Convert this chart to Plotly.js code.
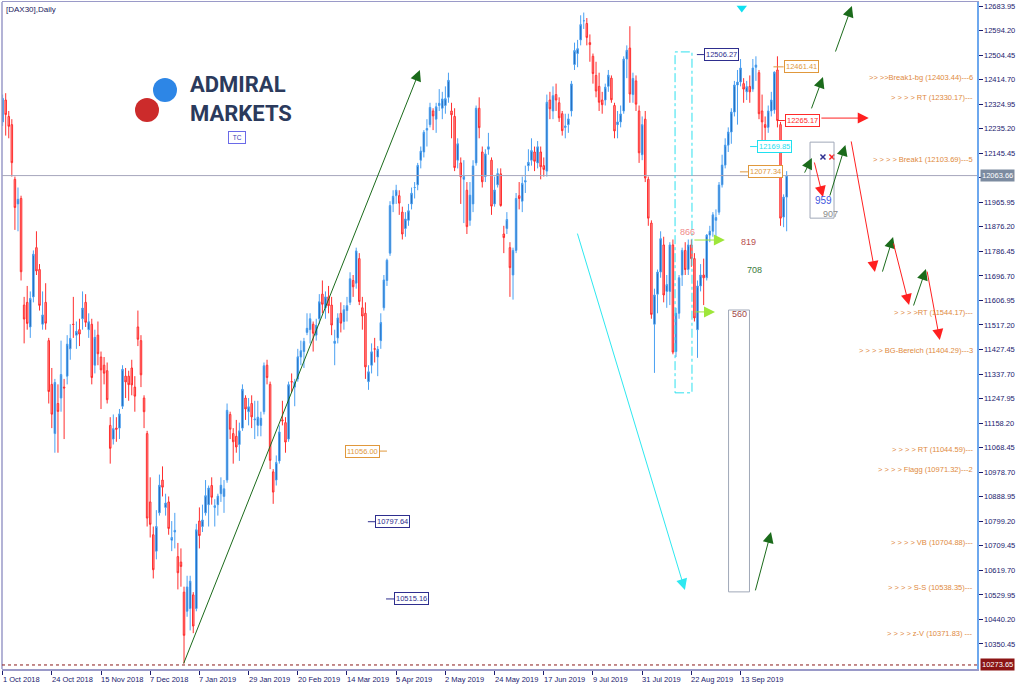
<!DOCTYPE html>
<html><head><meta charset="utf-8">
<script src="https://cdn.plot.ly/plotly-3.0.1.min.js"></script>
<style>html,body{margin:0;padding:0;background:#fff}#chart{width:1024px;height:685px}</style>
</head><body><div id="chart"></div>
<script>
// ---------------- DATA ----------------
const dates = [
"2018-10-01","2018-10-02","2018-10-04","2018-10-05","2018-10-08","2018-10-09","2018-10-10","2018-10-11","2018-10-12","2018-10-15","2018-10-16","2018-10-17","2018-10-18","2018-10-19","2018-10-22","2018-10-23","2018-10-24","2018-10-25","2018-10-26","2018-10-29","2018-10-30","2018-10-31",
"2018-11-01","2018-11-02","2018-11-05","2018-11-06","2018-11-07","2018-11-08","2018-11-09","2018-11-12","2018-11-13","2018-11-14","2018-11-15","2018-11-16","2018-11-19","2018-11-20","2018-11-21","2018-11-22","2018-11-23","2018-11-26","2018-11-27","2018-11-28","2018-11-29","2018-11-30",
"2018-12-03","2018-12-04","2018-12-05","2018-12-06","2018-12-07","2018-12-10","2018-12-11","2018-12-12","2018-12-13","2018-12-14","2018-12-17","2018-12-18","2018-12-19","2018-12-20","2018-12-21","2018-12-27","2018-12-28",
"2019-01-02","2019-01-03","2019-01-04","2019-01-07","2019-01-08","2019-01-09","2019-01-10","2019-01-11","2019-01-14","2019-01-15","2019-01-16","2019-01-17","2019-01-18","2019-01-21","2019-01-22","2019-01-23","2019-01-24","2019-01-25","2019-01-28","2019-01-29","2019-01-30","2019-01-31",
"2019-02-01","2019-02-04","2019-02-05","2019-02-06","2019-02-07","2019-02-08","2019-02-11","2019-02-12","2019-02-13","2019-02-14","2019-02-15","2019-02-18","2019-02-19","2019-02-20","2019-02-21","2019-02-22","2019-02-25","2019-02-26","2019-02-27","2019-02-28",
"2019-03-01","2019-03-04","2019-03-05","2019-03-06","2019-03-07","2019-03-08","2019-03-11","2019-03-12","2019-03-13","2019-03-14","2019-03-15","2019-03-18","2019-03-19","2019-03-20","2019-03-21","2019-03-22","2019-03-25","2019-03-26","2019-03-27","2019-03-28","2019-03-29",
"2019-04-01","2019-04-02","2019-04-03","2019-04-04","2019-04-05","2019-04-08","2019-04-09","2019-04-10","2019-04-11","2019-04-12","2019-04-15","2019-04-16","2019-04-17","2019-04-18","2019-04-23","2019-04-24","2019-04-25","2019-04-26","2019-04-29","2019-04-30",
"2019-05-02","2019-05-03","2019-05-06","2019-05-07","2019-05-08","2019-05-09","2019-05-10","2019-05-13","2019-05-14","2019-05-15","2019-05-16","2019-05-17","2019-05-20","2019-05-21","2019-05-22","2019-05-23","2019-05-24","2019-05-27","2019-05-28","2019-05-29","2019-05-30","2019-05-31",
"2019-06-03","2019-06-04","2019-06-05","2019-06-06","2019-06-07","2019-06-10","2019-06-11","2019-06-12","2019-06-13","2019-06-14","2019-06-17","2019-06-18","2019-06-19","2019-06-20","2019-06-21","2019-06-24","2019-06-25","2019-06-26","2019-06-27","2019-06-28",
"2019-07-01","2019-07-02","2019-07-03","2019-07-04","2019-07-05","2019-07-08","2019-07-09","2019-07-10","2019-07-11","2019-07-12","2019-07-15","2019-07-16","2019-07-17","2019-07-18","2019-07-19","2019-07-22","2019-07-23","2019-07-24","2019-07-25","2019-07-26","2019-07-29","2019-07-30","2019-07-31",
"2019-08-01","2019-08-02","2019-08-05","2019-08-06","2019-08-07","2019-08-08","2019-08-09","2019-08-12","2019-08-13","2019-08-14","2019-08-15","2019-08-16","2019-08-19","2019-08-20","2019-08-21","2019-08-22","2019-08-23","2019-08-26","2019-08-27","2019-08-28","2019-08-29","2019-08-30",
"2019-09-02","2019-09-03","2019-09-04","2019-09-05","2019-09-06","2019-09-09","2019-09-10","2019-09-11","2019-09-12","2019-09-13","2019-09-16","2019-09-17","2019-09-18","2019-09-19","2019-09-20","2019-09-23","2019-09-24","2019-09-25","2019-09-26","2019-09-27","2019-09-30",
"2019-10-01","2019-10-02","2019-10-04","2019-10-07"];

const openP = [
12260,12340,12280,12250,12050,11960,11980,11590,11600,11510,11620,11800,11720,11520,11600,11460,11300,11120,11230,11250,11290,11330,
11430,11520,11480,11500,11540,11600,11500,11520,11370,11480,11400,11370,11350,11150,11100,11140,11140,11220,11330,11330,11360,11290,
11510,11460,11250,11120,10870,10750,10690,10830,10950,10850,10870,10730,10760,10670,10650,10540,10470,
10480,10530,10480,10800,10780,10830,10860,10930,10850,10860,10900,10890,10950,11190,11120,11110,11080,11140,11250,11200,11230,11170,
11150,11150,11200,11370,11300,10980,10950,11020,11170,11160,11100,11310,11290,11320,11400,11420,11490,11500,11520,11480,
11540,11630,11580,11620,11590,11450,11470,11560,11530,11570,11600,11680,11670,11760,11580,11560,11310,11370,11430,11400,11460,
11580,11680,11780,11960,11990,11990,11930,11870,11900,11960,12020,12030,12120,12150,12230,12250,12300,12270,12320,12310,
12320,12350,12300,12280,12120,12110,12050,12010,11900,11960,12110,12310,12150,12060,12160,12120,11960,12030,12070,11850,11870,11800,
11700,11790,11990,11970,12040,12100,12120,12150,12110,12150,12100,12080,12340,12300,12360,12330,12290,12240,12250,12300,
12470,12510,12560,12630,12620,12550,12500,12430,12390,12340,12340,12390,12420,12320,12250,12260,12300,12490,12530,12360,12410,12300,12140,
12270,12050,11890,11520,11630,11711,11810,11640,11640,11810,11420,11560,11700,11790,11720,11810,11760,11500,11660,11700,11690,11846,
11860,11900,11930,12030,12102,12175,12223,12296,12395,12406,12400,12370,12390,12380,12460,12440,12300,12250,12240,12300,12304,
12450,12250,11912,11985];

const highP = [
12360,12365,12300,12270,12060,12020,11990,11620,11660,11640,11790,11860,11740,11640,11670,11470,11360,11320,11300,11460,11320,11480,
11520,11620,11530,11540,11640,11630,11560,11540,11500,11530,11420,11400,11380,11180,11190,11180,11210,11370,11360,11350,11390,11330,
11570,11480,11260,11130,10960,10780,10840,10970,11000,10900,10890,10800,10830,10720,10700,10560,10600,
10600,10540,10790,10850,10860,10950,10930,10960,10880,10900,10960,10950,11230,11200,11140,11170,11160,11300,11260,11250,11260,11240,
11240,11200,11380,11390,11310,10990,11040,11150,11240,11180,11310,11340,11320,11430,11460,11470,11560,11560,11530,11540,
11630,11680,11640,11660,11620,11500,11560,11600,11590,11620,11710,11700,11800,11780,11620,11600,11370,11450,11470,11440,11560,
11700,11760,11970,12010,12030,12010,11950,11930,11960,12020,12040,12110,12170,12230,12270,12330,12310,12330,12380,12370,
12390,12440,12330,12310,12200,12130,12120,12040,12040,12120,12320,12350,12170,12160,12220,12130,12060,12090,12090,11880,11930,11820,
11800,12000,12040,12060,12100,12160,12200,12170,12190,12170,12130,12360,12370,12390,12400,12350,12300,12290,12290,12410,
12550,12560,12650,12660,12640,12580,12510,12480,12440,12370,12400,12450,12430,12330,12300,12320,12500,12540,12610,12440,12430,12320,12280,
12300,12060,11900,11650,11720,11860,11840,11700,11820,11830,11580,11700,11800,11820,11830,11830,11780,11680,11740,11760,11850,11880,
11930,11940,12040,12140,12200,12240,12310,12410,12450,12490,12420,12410,12430,12490,12500,12450,12360,12280,12320,12370,12445,
12500,12260,11995,12080];

const lowP = [
12245,12210,12200,12060,11865,11860,11680,11450,11500,11470,11600,11700,11570,11500,11500,11230,11140,11050,11050,11200,11100,11300,
11390,11470,11430,11440,11500,11510,11470,11300,11340,11370,11210,11300,11230,11010,11080,11090,11100,11210,11250,11240,11260,11200,
11440,11290,11140,10780,10740,10590,10660,10820,10890,10820,10750,10690,10700,10550,10560,10279,10450,
10400,10390,10470,10700,10760,10820,10780,10860,10780,10820,10870,10830,10940,11100,11010,11050,11020,11130,11170,11150,11140,11100,
11110,11110,11190,11300,10990,10863,10930,11010,11150,11050,11090,11270,11220,11310,11370,11360,11480,11450,11420,11460,
11520,11560,11540,11560,11480,11370,11450,11490,11500,11530,11590,11620,11650,11590,11500,11320,11280,11340,11380,11330,11430,
11570,11660,11770,11930,11960,11920,11830,11840,11880,11940,11980,12010,12090,12130,12170,12240,12230,12220,12300,12270,
12290,12330,12200,12080,12090,11960,11890,11850,11880,11930,12100,12200,12020,12040,12140,11920,11950,12020,11950,11780,11850,11620,
11610,11780,11940,11930,12000,12080,12100,12080,12090,12050,12060,12060,12270,12270,12300,12260,12210,12200,12220,12280,
12450,12460,12540,12600,12540,12480,12400,12350,12300,12290,12320,12370,12330,12200,12200,12240,12290,12420,12330,12330,12300,12110,12120,
12040,11880,11540,11342,11560,11690,11600,11580,11590,11410,11400,11540,11660,11700,11700,11730,11530,11397,11640,11590,11680,11820,
11840,11840,11920,12020,12090,12150,12180,12280,12250,12390,12330,12340,12330,12370,12410,12270,12170,12160,12220,12280,12290,
12240,11880,11875,11860];

const closeP = [
12346,12287,12244,12111,11947,11977,11712,11539,11523,11614,11776,11715,11589,11554,11524,11274,11191,11307,11201,11336,11287,11447,
11468,11519,11494,11484,11579,11527,11529,11325,11472,11412,11353,11341,11244,11066,11138,11136,11192,11355,11309,11299,11298,11257,
11465,11335,11200,10811,10788,10622,10780,10931,10924,10866,10773,10740,10766,10611,10634,10382,10559,
10580,10416,10768,10747,10804,10893,10921,10887,10856,10891,10931,10918,11205,11136,11090,11071,11130,11282,11210,11218,11181,11173,
11180,11176,11368,11325,11022,10906,11014,11126,11167,11089,11299,11309,11309,11401,11423,11457,11505,11540,11487,11516,
11602,11593,11620,11588,11517,11458,11543,11524,11573,11588,11686,11657,11788,11603,11550,11364,11346,11419,11429,11428,11526,
11682,11754,11954,11988,12010,11963,11850,11905,11935,11999,12020,12101,12153,12222,12236,12313,12282,12315,12328,12344,
12345,12412,12286,12093,12180,12059,12060,11877,11992,12099,12310,12239,12041,12143,12169,11952,12011,12071,11954,11837,11903,11727,
11790,11980,11980,12035,12045,12112,12155,12116,12169,12096,12086,12332,12308,12356,12340,12275,12228,12245,12271,12399,
12521,12528,12616,12630,12569,12543,12437,12373,12332,12323,12387,12431,12341,12227,12260,12289,12490,12522,12362,12419,12325,12147,12250,
12055,11908,11556,11627,11711,11833,11627,11665,11810,11418,11560,11690,11790,11720,11810,11760,11543,11660,11700,11690,11846,11860,
11920,11910,12029,12102,12175,12223,12296,12395,12406,12457,12380,12389,12370,12457,12468,12290,12260,12240,12300,12340,12442,
12265,11908,11985,12063.66];

const xTickLabels = ["1 Oct 2018","24 Oct 2018","15 Nov 2018","7 Dec 2018","7 Jan 2019","29 Jan 2019","20 Feb 2019","14 Mar 2019","5 Apr 2019","2 May 2019","24 May 2019","17 Jun 2019","9 Jul 2019","31 Jul 2019","22 Aug 2019","13 Sep 2019"];
const yTickValues = [12683.95,12594.20,12504.45,12414.70,12324.95,12235.20,12145.45,12055.70,11965.95,11876.20,11786.45,11696.70,11606.95,11517.20,11427.45,11337.70,11247.95,11158.20,11068.45,10978.70,10888.95,10799.20,10709.45,10619.70,10529.95,10440.20,10350.45];
const currentPrice = 12063.66;
const lowestPrice = 10273.65;

// level texts on the right: [label, level]
const levelTexts = [
 [">> >>Break1-bg (12403.44)---6", 12403.44],
 ["> > > > RT (12330.17)---", 12330.17],
 ["> > > > Break1 (12103.69)---5", 12103.69],
 ["> > > >RT (11544.17)---", 11544.17],
 ["> > > > BG-Bereich (11404.29)---3", 11404.29],
 ["> > > > RT (11044.59)---", 11044.59],
 ["> > > > Flagg (10971.32)---2", 10971.32],
 ["> > > > VB (10704.88)---", 10704.88],
 ["> > > > S-S (10538.35)---", 10538.35],
 ["> > > > z-V (10371.83) ---", 10371.83]
];
// price tags: [text, level, tagBar, lineFromBar, lineToBar, colour]
const priceTags = [
 ["12506.27", 12506.27, 228.1, 225.8, 228.1, "#2e2e8e"],
 ["12461.41", 12461.41, 254.0, 250.7, 254.0, "#e0983c"],
 ["12265.17", 12265.17, 254.4, 252.2, 254.4, "#ff2a2a"],
 ["12169.85", 12169.85, 245.3, 243.1, 245.3, "#1ee0f0"],
 ["12077.34", 12077.34, 242.4, 239.8, 242.4, "#e0983c"],
 ["11056.00", 11056.00, 111.3, 122.7, 125.0, "#e0983c"],
 ["10797.64", 10797.64, 121.1, 118.8, 121.1, "#2e2e8e"],
 ["10515.16", 10515.16, 127.3, 124.7, 127.3, "#2e2e8e"]
];
// arrows [fromBar, fromPrice, toBar, toPrice]
const greenArrows = [[58.7,10274,135.7,12450],[270.7,12512,276.2,12684],[262.9,12304,266.8,12424],[260.6,12069,263.2,12128],[268.9,11985,274.1,12176],[286.0,11707,289.6,11839],[296.1,11583,300.3,11722],[244.7,10541,249.9,10760]];
const redArrows = [[265.8,12274,281.7,12274],[263.9,12117,266.8,11985],[275.9,12194,283.7,11711],[289.6,11821,294.8,11590],[300.6,11718,304.8,11462]];
const limeArrows = [[224.5,11828,234.9,11828],[224.5,11565,231.7,11565]];
const cyanArrows = [[186.8,11857,221.9,10548]];
// count labels [text, bar, price, colour, size]
const countLabels = [["866",219.6,11857,"#f08a8a",9],["819",239.6,11821,"#b85050",9],["708",241.6,11718,"#3c7a3c",9],["560",236.6,11557,"#a04848",9],["959",263.4,11971,"#4058e0",10],["907",266.0,11923,"#8a8a8a",9]];
// boxes [bar0, bar1, price0, price1, colour, dash]
const boxes = [[218.7,224.2,11269,12516,"#2ee0ee","dashdot"],[236.1,242.9,10541,11572,"#a0a8b8","solid"],[262.6,270.4,11908,12186,"#a0a8b8","solid"]];

// ---------------- CHART ----------------
const W = 1024, H = 685, ML = 2, MR = 47, MT = 2, MB = 16;
const PW = W - ML - MR, PH = H - MT - MB;
const PX = x => (x - ML) / PW;           // pixel -> paper
const PY = y => (H - MB - y) / PH;
const xs = dates.map((d, i) => i);
const font = "Liberation Sans, Arial, sans-serif";

const traces = [{
  type: "candlestick", x: xs, open: openP, high: highP, low: lowP, close: closeP,
  increasing: {line: {color: "#4aa0f2", width: 1}, fillcolor: "#0d4e9c"},
  decreasing: {line: {color: "#ff2e2e", width: 1}, fillcolor: "#ff9c9c"},
  whiskerwidth: 0, hoverinfo: "none", text: dates
}, {
  type: "scatter", mode: "markers", x: [240.4], y: [12677], hoverinfo: "none",
  marker: {symbol: "triangle-down", size: 9, color: "#10e0f0"}
}, {
  type: "scatter", mode: "markers", x: [266.8, 269.7], y: [12132, 12132], hoverinfo: "none",
  marker: {symbol: "x-thin", size: 5, line: {width: 1.5, color: ["#303090", "#ff2020"]}}
}];

const shapes = [
  {type: "line", xref: "paper", x0: 0, x1: 0, yref: "paper", y0: 0, y1: 1, line: {color: "#9a9ac8", width: 1.5}},
  {type: "line", xref: "paper", x0: 0, x1: 1, y0: currentPrice, y1: currentPrice, line: {color: "#a6a6bc", width: 1}},
  {type: "line", xref: "paper", x0: 0, x1: 1, y0: lowestPrice, y1: lowestPrice, line: {color: "#8b1a1a", width: 1, dash: "dot"}},
  {type: "circle", xref: "paper", yref: "paper", x0: PX(153), x1: PX(177), y0: PY(102), y1: PY(78), fillcolor: "#2d86e6", line: {width: 0}},
  {type: "circle", xref: "paper", yref: "paper", x0: PX(135), x1: PX(159), y0: PY(122), y1: PY(98), fillcolor: "#cc2b2b", line: {width: 0}}
];
boxes.forEach(b => shapes.push({type: "rect", x0: b[0], x1: b[1], y0: b[2], y1: b[3], line: {color: b[4], width: 1, dash: b[5]}}));
priceTags.forEach(t => shapes.push({type: "line", x0: t[3], x1: t[4], y0: t[1], y1: t[1], line: {color: t[5], width: 1}}));

const annotations = [];
function arrow(a, col, size) {
  annotations.push({x: a[2], y: a[3], ax: a[0], ay: a[1], xref: "x", yref: "y", axref: "x", ayref: "y",
    text: "", showarrow: true, arrowhead: 2, arrowsize: size, arrowwidth: 1, arrowcolor: col, standoff: 0, startstandoff: 0});
}
greenArrows.forEach(a => arrow(a, "#1b6b1b", 2.2));
redArrows.forEach(a => arrow(a, "#ff2020", 2.2));
limeArrows.forEach(a => arrow(a, "#9ee63a", 2.2));
cyanArrows.forEach(a => arrow(a, "#2ee8f0", 2.2));

xTickLabels.forEach((t, i) => annotations.push({x: i * 16, y: 0, xref: "x", yref: "paper", yanchor: "top", xanchor: "left",
  xshift: -2, yshift: -4, text: t, showarrow: false, font: {family: font, size: 7.5, color: "#1a1a6e"}}));

levelTexts.forEach(t => annotations.push({x: 1, xref: "paper", y: t[1], yref: "y", xanchor: "right", yanchor: "middle",
  xshift: -2, yshift: 5, text: t[0], showarrow: false, font: {family: font, size: 7.5, color: "#e08a3e"}}));

priceTags.forEach(t => annotations.push({x: t[2], y: t[1], xanchor: "left", yanchor: "middle", text: t[0], showarrow: false,
  bordercolor: t[5], borderwidth: 1, borderpad: 1, bgcolor: "#ffffff", font: {family: font, size: 7.5, color: t[5]}}));

countLabels.forEach(c => annotations.push({x: c[1], y: c[2], xanchor: "left", yanchor: "middle", text: c[0], showarrow: false,
  font: {family: font, size: c[4], color: c[3]}}));

annotations.push(
  {x: 1, xref: "paper", y: currentPrice, xanchor: "left", xshift: 3, text: currentPrice.toFixed(2), showarrow: false,
   bgcolor: "#7c8ba0", borderpad: 1, font: {family: font, size: 7.5, color: "#ffffff"}},
  {x: 1, xref: "paper", y: lowestPrice, xanchor: "left", xshift: 3, text: lowestPrice.toFixed(2), showarrow: false,
   bgcolor: "#8b1414", borderpad: 1, font: {family: font, size: 7.5, color: "#ffffff"}},
  {x: 0, xref: "paper", y: 1, yref: "paper", xanchor: "left", yanchor: "top", xshift: 2, yshift: -1, text: "[DAX30],Daily",
   showarrow: false, font: {family: font, size: 8, color: "#1a1a5e"}},
  {x: PX(188), xref: "paper", y: PY(99), yref: "paper", xanchor: "left", yanchor: "middle", align: "left",
   text: "<b>ADMIRAL</b><br><b>MARKETS</b>",
   showarrow: false, font: {family: "Roboto, Liberation Sans, sans-serif", size: 22, color: "#2b3a5c"}},
  {x: PX(236.5), xref: "paper", y: PY(137), yref: "paper", xanchor: "center", yanchor: "middle", text: "&nbsp;TC&nbsp;",
   showarrow: false, bordercolor: "#6a6ae8", borderwidth: 1, borderpad: 2, bgcolor: "#ffffff",
   font: {family: font, size: 6.5, color: "#3a3ab0"}}
);

const layout = {
  width: W, height: H, margin: {l: ML, r: MR, t: MT, b: MB, pad: 0},
  paper_bgcolor: "#ffffff", plot_bgcolor: "#ffffff", showlegend: false,
  font: {family: font, size: 8, color: "#1a1a6e"},
  xaxis: {range: [-0.2, 316.9], rangeslider: {visible: false}, showgrid: false, zeroline: false,
    tickvals: xTickLabels.map((t, i) => i * 16), ticktext: xTickLabels.map(() => ""),
    ticks: "outside", ticklen: 4, tickcolor: "#1a1a6e", showline: true, linecolor: "#9a9ac8", linewidth: 1.5, mirror: true, fixedrange: true},
  yaxis: {side: "right", range: [10258.9, 12698.6], showgrid: false, zeroline: false,
    tickvals: yTickValues, ticktext: yTickValues.map(v => Math.abs(v - currentPrice) < 20 ? "" : v.toFixed(2)),
    ticks: "outside", ticklen: 4, tickcolor: "#1a1a6e",
    showline: true, linecolor: "#6ea8ee", linewidth: 1.5, tickfont: {family: font, size: 7.5, color: "#1a1a6e"}, fixedrange: true},
  shapes: shapes, annotations: annotations
};
Plotly.newPlot("chart", traces, layout, {staticPlot: true, displayModeBar: false});
</script>
</body></html>
